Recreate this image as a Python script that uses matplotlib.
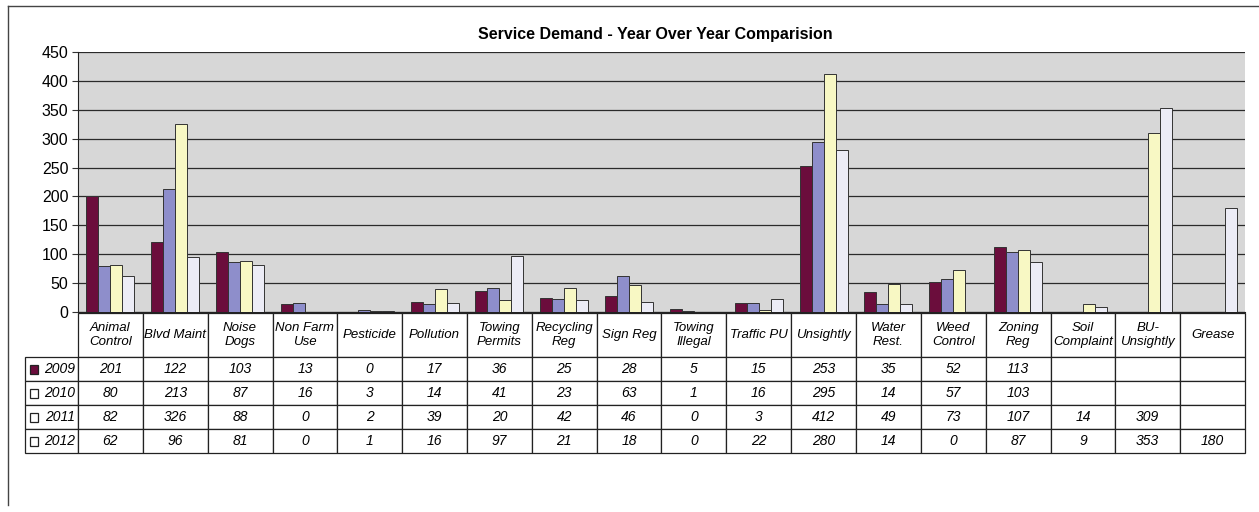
import numpy as np
import matplotlib
matplotlib.use('Agg')
import matplotlib.pyplot as plt
from matplotlib.patches import Rectangle
from matplotlib.lines import Line2D

# data
categories = ['Animal\nControl', 'Blvd Maint', 'Noise\nDogs', 'Non Farm\nUse', 'Pesticide',
			  'Pollution', 'Towing\nPermits', 'Recycling\nReg', 'Sign Reg', 'Towing\nIllegal',
			  'Traffic PU', 'Unsightly', 'Water\nRest.', 'Weed\nControl', 'Zoning\nReg',
			  'Soil\nComplaint', 'BU-\nUnsightly', 'Grease']
years = ['2009', '2010', '2011', '2012']
nan = np.nan
v2009 = [201, 122, 103, 13, 0, 17, 36, 25, 28, 5, 15, 253, 35, 52, 113, nan, nan, nan]
v2010 = [80, 213, 87, 16, 3, 14, 41, 23, 63, 1, 16, 295, 14, 57, 103, nan, nan, nan]
v2011 = [82, 326, 88, 0, 2, 39, 20, 42, 46, 0, 3, 412, 49, 73, 107, 14, 309, nan]
v2012 = [62, 96, 81, 0, 1, 16, 97, 21, 18, 0, 22, 280, 14, 0, 87, 9, 353, 180]
series = [v2009, v2010, v2011, v2012]
colors = ['#6b0d3c', '#8e8ecb', '#f8f8c4', '#ececf6']

plt.rcParams['font.family'] = ['Liberation Sans', 'DejaVu Sans']

fig = plt.figure(figsize=(12.59, 5.12), dpi=100)
ax = fig.add_axes([78/1259, 1-312/512, 1167/1259, 260/512])
ax.set_facecolor('#d7d7d7')

n = len(categories)
x = np.arange(n)
bw = 0.185
for i, (vals, c) in enumerate(zip(series, colors)):
	ax.bar(x - 1.5*bw + i*bw, vals, width=bw, color=c, edgecolor='#333333', linewidth=0.7, zorder=3)

ax.set_xlim(-0.5, n - 0.5)
ax.set_ylim(0, 450)
ax.set_yticks(range(0, 451, 50))
ax.tick_params(axis='y', labelsize=11.5, length=4, color='#333333', pad=3)
ax.set_xticks([])
ax.yaxis.grid(True, color='#2a2a2a', linewidth=0.9, zorder=0)
ax.set_axisbelow(True)
for s in ['top', 'right']:
	ax.spines[s].set_visible(False)
ax.spines['left'].set_color('#222222')
ax.spines['bottom'].set_color('#222222')

fig.text(655/1259, 1-35/512, 'Service Demand - Year Over Year Comparision',
		 ha='center', va='center', fontsize=11.5, fontweight='bold')

# table under the chart
cell_text = [[''] + categories]
for y, vals in zip(years, series):
	cell_text.append([y] + ['' if np.isnan(v) else str(int(v)) for v in vals])

ax_w = 1167
lab_w = 53
col_w = ax_w / n
tot_w = lab_w + col_w * n
tbl = ax.table(cellText=cell_text, cellLoc='center',
			   colWidths=[lab_w/tot_w] + [col_w/tot_w]*n,
			   bbox=[-lab_w/ax_w, -141/260, tot_w/ax_w, 140/260])
tbl.auto_set_font_size(False)
tbl.set_fontsize(9.5)
head_h, row_h = 44, 24
for (r, c), cell in tbl.get_celld().items():
	cell.set_height(head_h if r == 0 else row_h)
	cell.set_linewidth(0.9)
	cell.set_edgecolor('#222222')
	cell.get_text().set_fontstyle('italic')
	if r > 0:
		cell.get_text().set_fontsize(10)
	if c == 0 and r > 0:
		cell.get_text().set_ha('right')
		cell._loc = 'right'
		cell.PAD = 0.06
tbl[0, 0].visible_edges = ''

# legend keys in row label cells
for i, c in enumerate(colors):
	yc = -(1 + head_h + row_h*(i + 0.5)) / 260
	ax.add_patch(Rectangle((-48/ax_w, yc - 4.5/260), 8/ax_w, 9/260, transform=ax.transAxes,
						   facecolor=c if i == 0 else 'white', edgecolor='#222222',
						   linewidth=0.9, clip_on=False, zorder=5))

# scanned page frame
fig.add_artist(Line2D([8/1259, 1.0], [1-6/512, 1-6/512], color='#444444', linewidth=1.0))
fig.add_artist(Line2D([8/1259, 8/1259], [1-6/512, 1-505/512], color='#444444', linewidth=1.0))

fig.savefig('out.png', dpi=100)
